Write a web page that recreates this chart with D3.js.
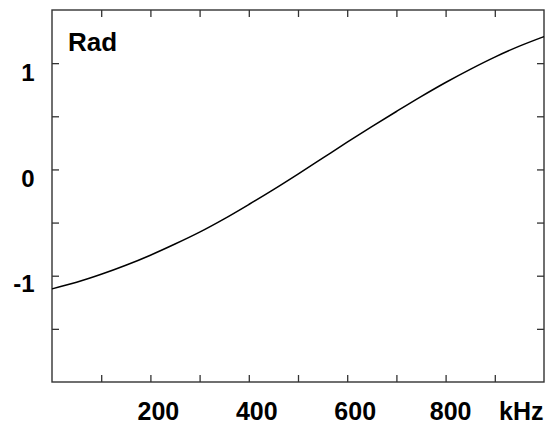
<!DOCTYPE html>
<html>
<head>
<meta charset="utf-8">
<script src="https://cdn.jsdelivr.net/npm/d3@7"></script>
<style>
  html, body { margin: 0; padding: 0; background: #fff; }
  svg { display: block; }
  text { font-family: "Liberation Sans", Arial, sans-serif; font-weight: bold; fill: #000; }
</style>
</head>
<body>
<svg id="chart" width="550" height="425"></svg>
<script>
// Phase (rad) versus frequency (kHz)
const freqKHz = [0, 50, 100, 150, 200, 250, 300, 350, 400, 450, 500,
                 550, 600, 650, 700, 750, 800, 850, 900, 950, 1000];
const phaseRad = [-1.124, -1.062, -0.987, -0.902, -0.807, -0.702, -0.590, -0.465, -0.330, -0.190, -0.044,
                  0.106, 0.256, 0.402, 0.545, 0.685, 0.818, 0.942, 1.057, 1.160, 1.250];

const xTickValues = [100, 200, 300, 400, 500, 600, 700, 800, 900];
const xTickLabels = [200, 400, 600, 800];
const yTickValues = [-1.5, -1, -0.5, 0, 0.5, 1];
const yTickLabels = [1, 0, -1];

const svg = d3.select("#chart");
const plotLeft = 52, plotRight = 544, plotTop = 10, plotBottom = 382;

const x = d3.scaleLinear().domain([0, 1000]).range([plotLeft, plotRight]);
const y = d3.scaleLinear().domain([-2, 1.5]).range([plotBottom, plotTop]);

const frameColor = "#333";
const tickLen = 7;

// inward ticks on all four sides
const g = svg.append("g");
g.append("g").attr("transform", `translate(0,${plotBottom})`)
  .call(d3.axisTop(x).tickValues(xTickValues).tickSize(tickLen).tickFormat(""));
g.append("g").attr("transform", `translate(0,${plotTop})`)
  .call(d3.axisBottom(x).tickValues(xTickValues).tickSize(tickLen).tickFormat(""));
g.append("g").attr("transform", `translate(${plotLeft},0)`)
  .call(d3.axisRight(y).tickValues(yTickValues).tickSize(tickLen).tickFormat(""));
g.append("g").attr("transform", `translate(${plotRight},0)`)
  .call(d3.axisLeft(y).tickValues(yTickValues).tickSize(tickLen).tickFormat(""));
g.selectAll(".domain").remove();
g.selectAll(".tick line").attr("stroke", frameColor).attr("stroke-width", 1.3);

// frame
svg.append("rect")
  .attr("x", plotLeft).attr("y", plotTop)
  .attr("width", plotRight - plotLeft).attr("height", plotBottom - plotTop)
  .attr("fill", "none").attr("stroke", frameColor).attr("stroke-width", 1.4);

// curve
const line = d3.line()
  .x((d, i) => x(freqKHz[i]))
  .y(d => y(d))
  .curve(d3.curveMonotoneX);
svg.append("path")
  .datum(phaseRad)
  .attr("d", line)
  .attr("fill", "none")
  .attr("stroke", "#000")
  .attr("stroke-width", 1.5);

// x tick labels
svg.selectAll(".xl").data(xTickLabels).enter().append("text")
  .attr("class", "xl")
  .attr("x", d => x(d) + (d === 800 ? 5 : 8))
  .attr("y", 419.5)
  .attr("text-anchor", "middle")
  .attr("font-size", 25)
  .text(d => d);

// y tick labels
svg.selectAll(".yl").data(yTickLabels).enter().append("text")
  .attr("class", "yl")
  .attr("x", 34.5)
  .attr("y", d => y(d) + (d === -1 ? 16 : 18))
  .attr("text-anchor", "end")
  .attr("font-size", 24)
  .text(d => d);

// unit labels
svg.append("text").attr("x", 543.5).attr("y", 419.5).attr("text-anchor", "end")
  .attr("font-size", 25).text("kHz");
svg.append("text").attr("x", 68).attr("y", 50.5)
  .attr("font-size", 26).text("Rad");
</script>
</body>
</html>
